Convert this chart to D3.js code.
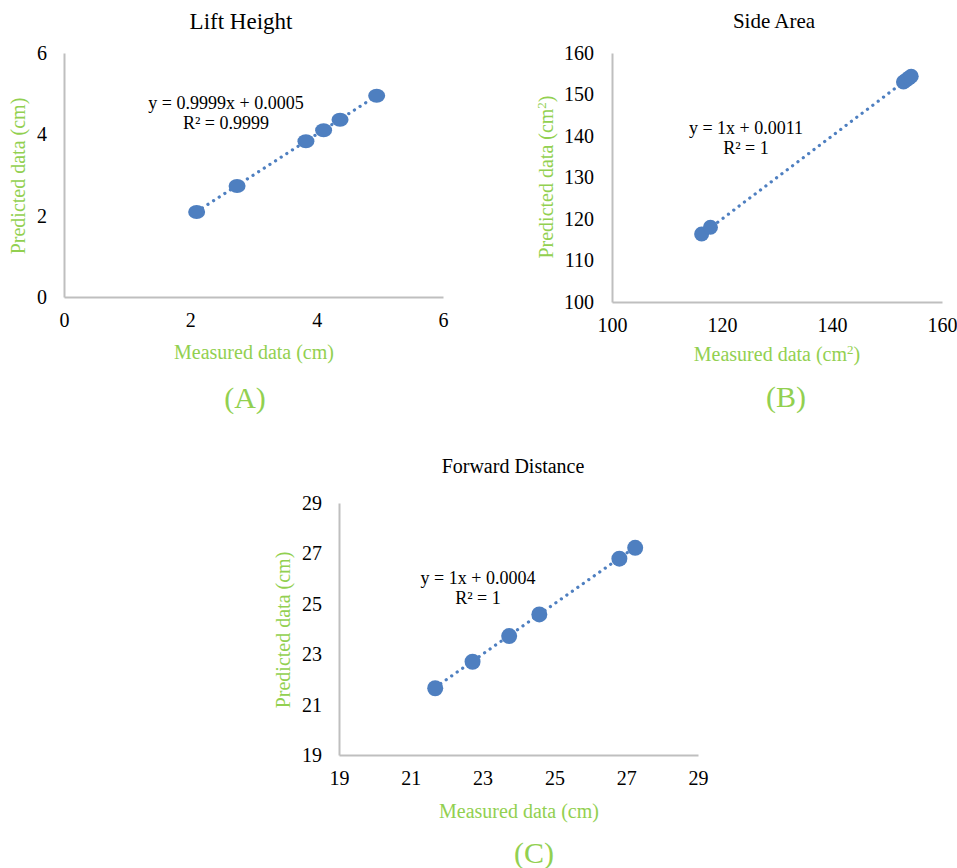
<!DOCTYPE html>
<html>
<head>
<meta charset="utf-8">
<script src="https://cdn.jsdelivr.net/npm/d3@7"></script>
<style>
  body { margin: 0; background: #fff; }
  svg { font-family: "Liberation Serif", "Times New Roman", serif; }
</style>
</head>
<body>
<svg id="chart" width="957" height="868"></svg>
<script>
// data
const liftMeasured = [2.10, 2.74, 3.83, 4.11, 4.37, 4.95];
const liftPredicted = [2.09, 2.73, 3.83, 4.10, 4.36, 4.95];
const areaMeasured = [116.3, 117.9, 153.0, 153.5, 154.0, 154.4];
const areaPredicted = [116.4, 118.0, 153.0, 153.5, 154.0, 154.4];
const distMeasured = [21.68, 22.72, 23.74, 24.58, 26.81, 27.25];
const distPredicted = [21.65, 22.70, 23.72, 24.58, 26.79, 27.22];

const liftTicks = [0, 2, 4, 6];
const areaTicks = [100, 110, 120, 130, 140, 150, 160];
const areaXTicks = [100, 120, 140, 160];
const distTicks = [19, 21, 23, 25, 27, 29];

const green = '#92d050';
const blue = '#4e7fc0';

const svg = d3.select('#chart');

function drawPanel(p) {
  const x = d3.scaleLinear().domain(p.domain).range([p.left, p.right]);
  const y = d3.scaleLinear().domain(p.domain).range([p.bottom, p.top]);
  const g = svg.append('g');
  const pts = p.xs.map((v, i) => ({ x: v, y: p.ys[i] }));

  // axes (no tick marks, light grey lines)
  const xAxis = g.append('g')
    .attr('transform', `translate(0,${p.bottom})`)
    .call(d3.axisBottom(x).tickValues(p.xTicks).tickFormat(d3.format('d')).tickSize(0).tickPadding(16));
  const yAxis = g.append('g')
    .attr('transform', `translate(${p.left},0)`)
    .call(d3.axisLeft(y).tickValues(p.yTicks).tickFormat(d3.format('d')).tickSize(0).tickPadding(p.yPad));
  [xAxis, yAxis].forEach(a => {
    a.select('.domain').attr('stroke', '#bfbfbf').attr('stroke-width', 2);
    a.selectAll('text')
      .attr('font-family', '"Liberation Serif", serif')
      .attr('font-size', 20)
      .attr('fill', '#000');
  });
  xAxis.selectAll('text').attr('dy', '0.71em');

  // trendline (dotted)
  const ext = d3.extent(p.xs);
  g.append('line')
    .attr('x1', x(ext[0])).attr('y1', y(p.slope * ext[0] + p.icpt))
    .attr('x2', x(ext[1])).attr('y2', y(p.slope * ext[1] + p.icpt))
    .attr('stroke', blue)
    .attr('stroke-width', 3.2)
    .attr('stroke-linecap', 'round')
    .attr('stroke-dasharray', '0.1 6.6');

  g.selectAll('ellipse.pt')
    .data(pts)
    .enter()
    .append('ellipse')
    .attr('cx', d => x(d.x))
    .attr('cy', d => y(d.y))
    .attr('rx', p.rx)
    .attr('ry', p.ry)
    .attr('fill', blue);

  // equation labels
  g.append('text')
    .attr('x', p.eqX).attr('y', p.eqY)
    .attr('text-anchor', 'middle').attr('font-size', 18)
    .text(p.eq);
  g.append('text')
    .attr('x', p.eqX).attr('y', p.eqY + 20)
    .attr('text-anchor', 'middle').attr('font-size', 18)
    .text(p.r2);

  // title
  g.append('text')
    .attr('x', p.titleX).attr('y', p.titleY)
    .attr('text-anchor', 'middle').attr('font-size', p.titleSize)
    .text(p.title);

  // axis titles
  const xt = g.append('text')
    .attr('x', p.xTitleX).attr('y', p.xTitleY)
    .attr('text-anchor', 'middle').attr('font-size', 20)
    .attr('fill', green)
    .text(p.xTitle);
  const yt = g.append('text')
    .attr('transform', `translate(${p.yTitleX},${p.yTitleY}) rotate(-90)`)
    .attr('text-anchor', 'middle').attr('font-size', 20)
    .attr('fill', green)
    .text(p.yTitle);
  if (p.sup) {
    xt.text('Measured data (cm');
    yt.text('Predicted data (cm');
    [xt, yt].forEach(t => {
      t.append('tspan').attr('baseline-shift', 'super').attr('font-size', 13).text('2');
      t.append('tspan').text(')');
    });
  }

  g.append('text')
    .attr('x', p.labelX).attr('y', p.labelY)
    .attr('text-anchor', 'middle').attr('font-size', 30)
    .attr('fill', green)
    .text(p.label);
}

drawPanel({
  xs: liftMeasured, ys: liftPredicted, domain: [0, 6],
  xTicks: liftTicks, yTicks: liftTicks, yPad: 17,
  left: 64, right: 443, top: 53, bottom: 297,
  slope: 0.9999, icpt: 0.0005, rx: 8.5, ry: 7,
  eq: 'y = 0.9999x + 0.0005', r2: 'R² = 0.9999', eqX: 226, eqY: 109,
  title: 'Lift Height', titleX: 241, titleY: 29, titleSize: 23,
  xTitle: 'Measured data (cm)', xTitleX: 254, xTitleY: 359,
  yTitle: 'Predicted data (cm)', yTitleX: 25, yTitleY: 176,
  label: '(A)', labelX: 245, labelY: 408
});

drawPanel({
  xs: areaMeasured, ys: areaPredicted, domain: [100, 160],
  xTicks: areaXTicks, yTicks: areaTicks, yPad: 18,
  left: 612, right: 942, top: 53, bottom: 302,
  slope: 1, icpt: 0.0011, rx: 7.5, ry: 7.5,
  eq: 'y = 1x + 0.0011', r2: 'R² = 1', eqX: 746, eqY: 134,
  title: 'Side Area', titleX: 774, titleY: 28, titleSize: 21,
  xTitle: 'Measured data (cm²)', xTitleX: 777, xTitleY: 361,
  yTitle: 'Predicted data (cm²)', yTitleX: 553, yTitleY: 177, sup: true,
  label: '(B)', labelX: 786, labelY: 407
});

drawPanel({
  xs: distMeasured, ys: distPredicted, domain: [19, 29],
  xTicks: distTicks, yTicks: distTicks, yPad: 17,
  left: 339, right: 698, top: 503, bottom: 755,
  slope: 1, icpt: 0.0004, rx: 8, ry: 8,
  eq: 'y = 1x + 0.0004', r2: 'R² = 1', eqX: 478, eqY: 584,
  title: 'Forward Distance', titleX: 513, titleY: 473, titleSize: 20,
  xTitle: 'Measured data (cm)', xTitleX: 519, xTitleY: 818,
  yTitle: 'Predicted data (cm)', yTitleX: 290, yTitleY: 630,
  label: '(C)', labelX: 534, labelY: 863
});
</script>
</body>
</html>
